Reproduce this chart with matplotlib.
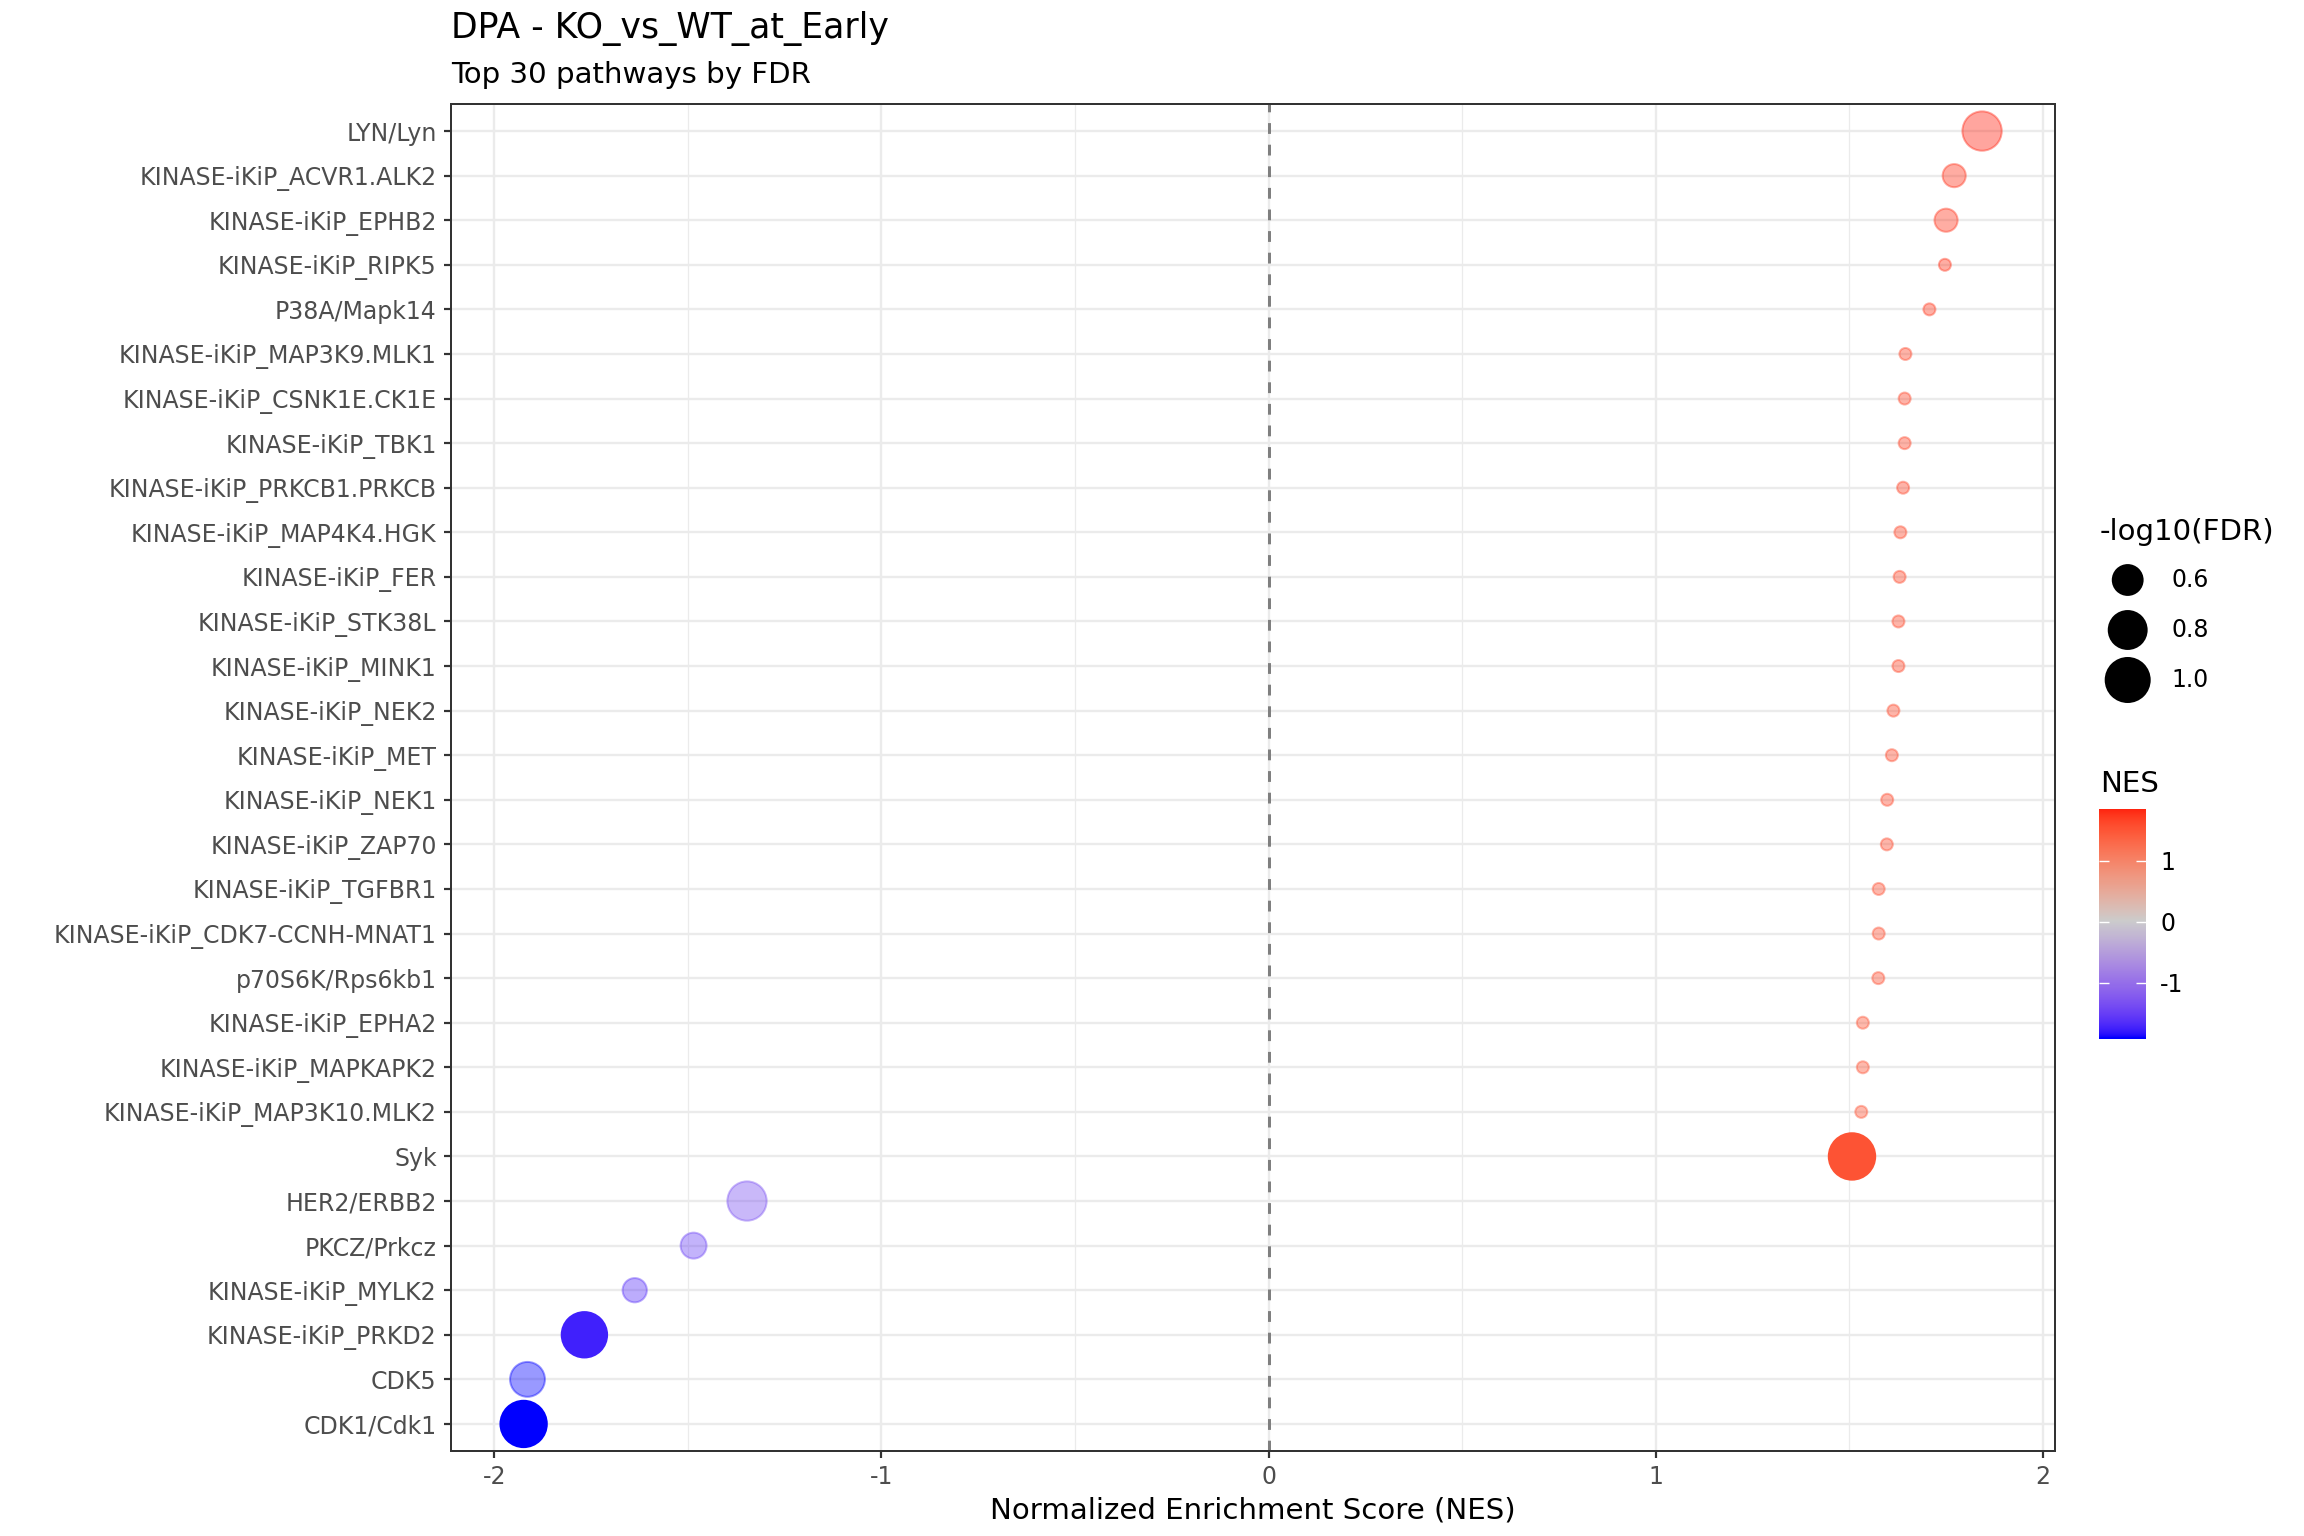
import numpy as np
import matplotlib
matplotlib.use("Agg")
import matplotlib.pyplot as plt
from matplotlib.colors import ListedColormap, Normalize

plt.rcParams['axes.unicode_minus'] = False

# pathways listed top to bottom as they appear on the y axis
pathways = ['LYN/Lyn', 'KINASE-iKiP_ACVR1.ALK2', 'KINASE-iKiP_EPHB2', 'KINASE-iKiP_RIPK5',
            'P38A/Mapk14', 'KINASE-iKiP_MAP3K9.MLK1', 'KINASE-iKiP_CSNK1E.CK1E', 'KINASE-iKiP_TBK1',
            'KINASE-iKiP_PRKCB1.PRKCB', 'KINASE-iKiP_MAP4K4.HGK', 'KINASE-iKiP_FER', 'KINASE-iKiP_STK38L',
            'KINASE-iKiP_MINK1', 'KINASE-iKiP_NEK2', 'KINASE-iKiP_MET', 'KINASE-iKiP_NEK1',
            'KINASE-iKiP_ZAP70', 'KINASE-iKiP_TGFBR1', 'KINASE-iKiP_CDK7-CCNH-MNAT1', 'p70S6K/Rps6kb1',
            'KINASE-iKiP_EPHA2', 'KINASE-iKiP_MAPKAPK2', 'KINASE-iKiP_MAP3K10.MLK2', 'Syk',
            'HER2/ERBB2', 'PKCZ/Prkcz', 'KINASE-iKiP_MYLK2', 'KINASE-iKiP_PRKD2', 'CDK5', 'CDK1/Cdk1']
nes = [1.843, 1.771, 1.750, 1.747, 1.707, 1.645, 1.643, 1.643,
       1.639, 1.632, 1.630, 1.627, 1.627, 1.614, 1.610, 1.598,
       1.597, 1.576, 1.576, 1.575, 1.535, 1.535, 1.531, 1.507,
       -1.347, -1.485, -1.637, -1.767, -1.914, -1.924]
neglog_fdr = [0.842, 0.49, 0.49, 0.42, 0.42, 0.42, 0.42, 0.42,
              0.42, 0.42, 0.42, 0.42, 0.42, 0.42, 0.42, 0.42,
              0.42, 0.42, 0.42, 0.42, 0.42, 0.42, 0.42, 1.09,
              0.842, 0.53, 0.505, 1.05, 0.716, 1.087]
size_breaks = [0.6, 0.8, 1.0]
nes_breaks = [-1, 0, 1]

nes = np.array(nes)
neglog_fdr = np.array(neglog_fdr)


def srgb_to_lab(rgb):
    c = np.asarray(rgb, dtype=float)
    lin = np.where(c <= 0.04045, c / 12.92, ((c + 0.055) / 1.055) ** 2.4)
    m = np.array([[0.4124564, 0.3575761, 0.1804375],
                  [0.2126729, 0.7151522, 0.0721750],
                  [0.0193339, 0.1191920, 0.9503041]])
    xyz = lin @ m.T / np.array([0.95047, 1.0, 1.08883])
    f = np.where(xyz > 0.008856, np.cbrt(xyz), 7.787 * xyz + 16 / 116)
    return np.stack([116 * f[..., 1] - 16, 500 * (f[..., 0] - f[..., 1]),
                     200 * (f[..., 1] - f[..., 2])], axis=-1)


def lab_to_srgb(lab):
    fy = (lab[..., 0] + 16) / 116
    fx = fy + lab[..., 1] / 500
    fz = fy - lab[..., 2] / 200
    f = np.stack([fx, fy, fz], axis=-1)
    xyz = np.where(f > 0.206893, f ** 3, (f - 16 / 116) / 7.787) * np.array([0.95047, 1.0, 1.08883])
    m = np.array([[3.2404542, -1.5371385, -0.4985314],
                  [-0.9692660, 1.8760108, 0.0415560],
                  [0.0556434, -0.2040259, 1.0572252]])
    lin = np.clip(xyz @ m.T, 0, 1)
    return np.where(lin <= 0.0031308, 12.92 * lin, 1.055 * lin ** (1 / 2.4) - 0.055)


# blue - grey80 - red, interpolated in Lab like ggplot's gradient2
stops = srgb_to_lab(np.array([[0, 0, 1], [0.8, 0.8, 0.8], [1, 0, 0]]))
t = np.linspace(0, 1, 256)
lab = np.empty((256, 3))
for k in range(3):
    lab[:, k] = np.interp(t, [0, 0.5, 1], stops[:, k])
cmap = ListedColormap(lab_to_srgb(lab))
lim = np.abs(nes).max()
norm = Normalize(-lim, lim)

# size scale: radius in pixels (area-like mapping)
vmin, vmax = neglog_fdr.min(), neglog_fdr.max()


def radius_px(v):
    return 7 + 17.2 * np.sqrt((np.asarray(v) - vmin) / (vmax - vmin))


fig = plt.figure(figsize=(16, 1536 / 144), dpi=144)
W, H = 2304, 1536
ax = fig.add_axes([450.7 / W, 1 - 1450.7 / H, (2055 - 450.7) / W, (1450.7 - 104.3) / H])

ypos = np.arange(len(pathways))[::-1]
colors = cmap(norm(nes))
alpha = np.where(10 ** (-neglog_fdr) < 0.1, 1.0, 0.4)
colors[:, 3] = alpha
lw = 1.0
ax.scatter(nes, ypos, s=(radius_px(neglog_fdr) - 1) ** 2, c=colors, edgecolors=colors,
           linewidths=lw, zorder=3)
ax.axvline(0, color='#7f7f7f', lw=1.5, ls=(0, (3.6, 3.6)), zorder=2)

span = nes.max() - nes.min()
ax.set_xlim(nes.min() - 0.05 * span, nes.max() + 0.05 * span)
ax.set_ylim(-0.6, len(pathways) - 0.4)
ax.set_xticks([-2, -1, 0, 1, 2])
ax.set_xticks([-1.5, -0.5, 0.5, 1.5], minor=True)
ax.set_yticks(ypos)
ax.set_yticklabels(pathways)
ax.grid(True, which='major', color='#ebebeb', lw=1.2, zorder=0)
ax.grid(True, which='minor', axis='x', color='#ebebeb', lw=0.6, zorder=0)
ax.set_axisbelow(True)
ax.tick_params(which='major', length=3.5, width=1.1, color='#333333', labelcolor='#4d4d4d',
               labelsize=11.8, pad=3.5)
ax.tick_params(which='minor', length=0)
for sp in ax.spines.values():
    sp.set_color('#333333')
    sp.set_linewidth(1.0)
ax.set_xlabel('Normalized Enrichment Score (NES)', fontsize=14.6, labelpad=4)

fig.text(451 / W, 1 - 37.7 / H, 'DPA - KO_vs_WT_at_Early', fontsize=17.4, va='baseline', ha='left')
fig.text(451 / W, 1 - 82.7 / H, 'Top 30 pathways by FDR', fontsize=14.6, va='baseline', ha='left')

# size legend
fig.text(2100 / W, 1 - 540 / H, '-log10(FDR)', fontsize=14.6, va='baseline', ha='left')
lax = fig.add_axes([2100 / W, 1 - 705 / H, 60 / W, 150 / H])
lax.set_xlim(0, 60)
lax.set_ylim(len(size_breaks) - 0.5, -0.5)
lax.axis('off')
kidx = np.arange(len(size_breaks))
lax.scatter(np.full(len(size_breaks), 27.7), kidx, s=radius_px(size_breaks) ** 2, c='black',
            linewidths=0)
for i, b in enumerate(size_breaks):
    lax.text(71.7, i, f'{b:.1f}', fontsize=11.8, va='center', ha='left', clip_on=False)

# colour bar
fig.text(2100 / W, 1 - 792 / H, 'NES', fontsize=14.6, va='baseline', ha='left')
cax = fig.add_axes([2099 / W, 1 - 1039.5 / H, 47 / W, 230.5 / H])
grad = np.linspace(nes.min(), nes.max(), 256)[:, None]
cax.imshow(grad, extent=[0, 1, nes.min(), nes.max()], origin='lower', aspect='auto',
           cmap=cmap, norm=norm)
cax.set_xticks([])
cax.set_yticks(nes_breaks)
cax.yaxis.tick_right()
cax.tick_params(axis='y', direction='in', length=5, width=0.7, color='white', left=True, right=True,
                labelsize=11.8, labelcolor='black', pad=7)
for sp in cax.spines.values():
    sp.set_visible(False)

fig.savefig('out.png', dpi=144)
